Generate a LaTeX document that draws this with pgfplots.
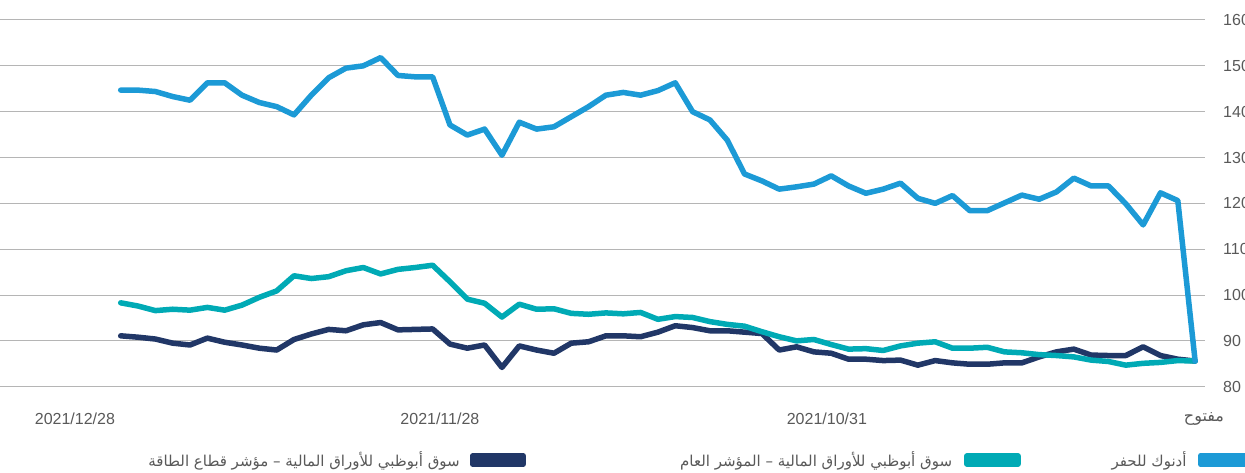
\documentclass[border=0pt]{standalone}
\usepackage{fontspec}
\usepackage{pgfplots}
\pgfplotsset{compat=1.18}
\setmainfont{Liberation Sans}
\newfontfamily\arabicfont[Script=Arabic]{DejaVu Sans}
\TeXXeTstate=1
\definecolor{cblue}{HTML}{1C9AD6}
\definecolor{cteal}{HTML}{00AAB5}
\definecolor{cnavy}{HTML}{213767}
\definecolor{gridgrey}{HTML}{B5B5B5}
\definecolor{labelgrey}{HTML}{595959}
\begin{document}
\begin{tikzpicture}
\useasboundingbox (0,0) rectangle (1245pt,472pt);
\begin{axis}[
  at={(0pt,85.3pt)}, anchor=south west,
  scale only axis, width=1205pt, height=366.7pt,
  xmin=-6.965, xmax=62.57, ymin=80, ymax=160,
  axis line style={draw=none},
  major tick length=0pt,
  ytick={80,90,...,160},
  ymajorgrids, grid style={gridgrey, line width=1pt},
  yticklabel pos=right,
  /pgf/number format/assume math mode=true,
  tick label style={font=\fontsize{16}{18}\selectfont, text=labelgrey},
  yticklabel style={anchor=west, inner sep=0pt, xshift=18pt},
  xtick={-2.64,18.42,40.75,62.51},
  xticklabels={2021/12/28,2021/11/28,2021/10/31,{\arabicfont\beginR مفتوح\endR}},
  xticklabel style={anchor=north, inner sep=0pt, yshift=-26pt},
  legend columns=3,
  legend plot pos=right,
  legend image code/.code={\fill (0pt,-4pt) rectangle (51pt,4pt);},
  legend style={at={(1.0407,-0.2)}, anchor=east, draw=none, fill=none,
    inner sep=0pt, outer sep=0pt,
    nodes={inner sep=0pt, text=labelgrey, font=\arabicfont\fontsize{15}{17}\selectfont},
    /tikz/column 1/.style={column sep=10pt},
    /tikz/column 2/.style={column sep=154pt},
    /tikz/column 3/.style={column sep=12pt},
    /tikz/column 4/.style={column sep=91pt},
    /tikz/column 5/.style={column sep=11pt}},
  every axis plot/.append style={line width=5.5pt, line join=round, line cap=round},
]
\addplot[cnavy] coordinates {
(0,91.1)(1,90.8)(2,90.4)(3,89.5)(4,89.1)(5,90.6)(6,89.7)(7,89.1)(8,88.4)(9,88.0)
(10,90.3)(11,91.5)(12,92.5)(13,92.2)(14,93.5)(15,94.0)(16,92.4)(17,92.5)(18,92.6)(19,89.3)
(20,88.4)(21,89.1)(22,84.2)(23,88.9)(24,88.0)(25,87.3)(26,89.5)(27,89.8)(28,91.1)(29,91.1)
(30,90.9)(31,91.9)(32,93.3)(33,92.9)(34,92.2)(35,92.2)(36,91.9)(37,91.6)(38,88.0)(39,88.7)
(40,87.6)(41,87.3)(42,86.0)(43,86.0)(44,85.7)(45,85.8)(46,84.7)(47,85.7)(48,85.2)(49,84.9)
(50,84.9)(51,85.2)(52,85.2)(53,86.5)(54,87.6)(55,88.2)(56,86.9)(57,86.8)(58,86.8)(59,88.7)
(60,86.8)(61,86.0)(62,85.6)};
\addlegendentry{\beginR سوق أبوظبي للأوراق المالية – مؤشر قطاع الطاقة\endR}
\addplot[cteal] coordinates {
(0,98.3)(1,97.6)(2,96.6)(3,96.9)(4,96.7)(5,97.3)(6,96.7)(7,97.8)(8,99.5)(9,100.9)
(10,104.2)(11,103.6)(12,104.0)(13,105.3)(14,106.0)(15,104.6)(16,105.6)(17,106.0)(18,106.5)(19,102.9)
(20,99.1)(21,98.2)(22,95.2)(23,98.0)(24,96.9)(25,97.0)(26,96.0)(27,95.8)(28,96.1)(29,95.9)
(30,96.2)(31,94.7)(32,95.3)(33,95.1)(34,94.2)(35,93.6)(36,93.2)(37,92.0)(38,90.9)(39,90.0)
(40,90.3)(41,89.2)(42,88.2)(43,88.3)(44,87.9)(45,88.9)(46,89.5)(47,89.8)(48,88.4)(49,88.4)
(50,88.6)(51,87.6)(52,87.4)(53,87.0)(54,86.8)(55,86.5)(56,85.8)(57,85.5)(58,84.7)(59,85.1)
(60,85.3)(61,85.7)(62,85.6)};
\addlegendentry{\beginR سوق أبوظبي للأوراق المالية – المؤشر العام\endR}
\addplot[cblue] coordinates {
(0,144.7)(1,144.7)(2,144.4)(3,143.3)(4,142.5)(5,146.3)(6,146.3)(7,143.6)(8,142.0)(9,141.1)
(10,139.3)(11,143.6)(12,147.4)(13,149.5)(14,150.0)(15,151.8)(16,147.9)(17,147.6)(18,147.6)(19,137.1)
(20,134.9)(21,136.2)(22,130.5)(23,137.7)(24,136.2)(25,136.7)(26,138.9)(27,141.1)(28,143.6)(29,144.2)
(30,143.6)(31,144.6)(32,146.3)(33,140.0)(34,138.2)(35,133.8)(36,126.4)(37,124.9)(38,123.1)(39,123.6)
(40,124.2)(41,126.0)(42,123.8)(43,122.2)(44,123.1)(45,124.4)(46,121.1)(47,120.0)(48,121.7)(49,118.4)
(50,118.4)(51,120.1)(52,121.8)(53,120.9)(54,122.5)(55,125.5)(56,123.8)(57,123.8)(58,119.9)(59,115.3)
(60,122.3)(61,120.6)(62,85.6)};
\addlegendentry{\beginR أدنوك للحفر\endR}
\end{axis}
\end{tikzpicture}
\end{document}
